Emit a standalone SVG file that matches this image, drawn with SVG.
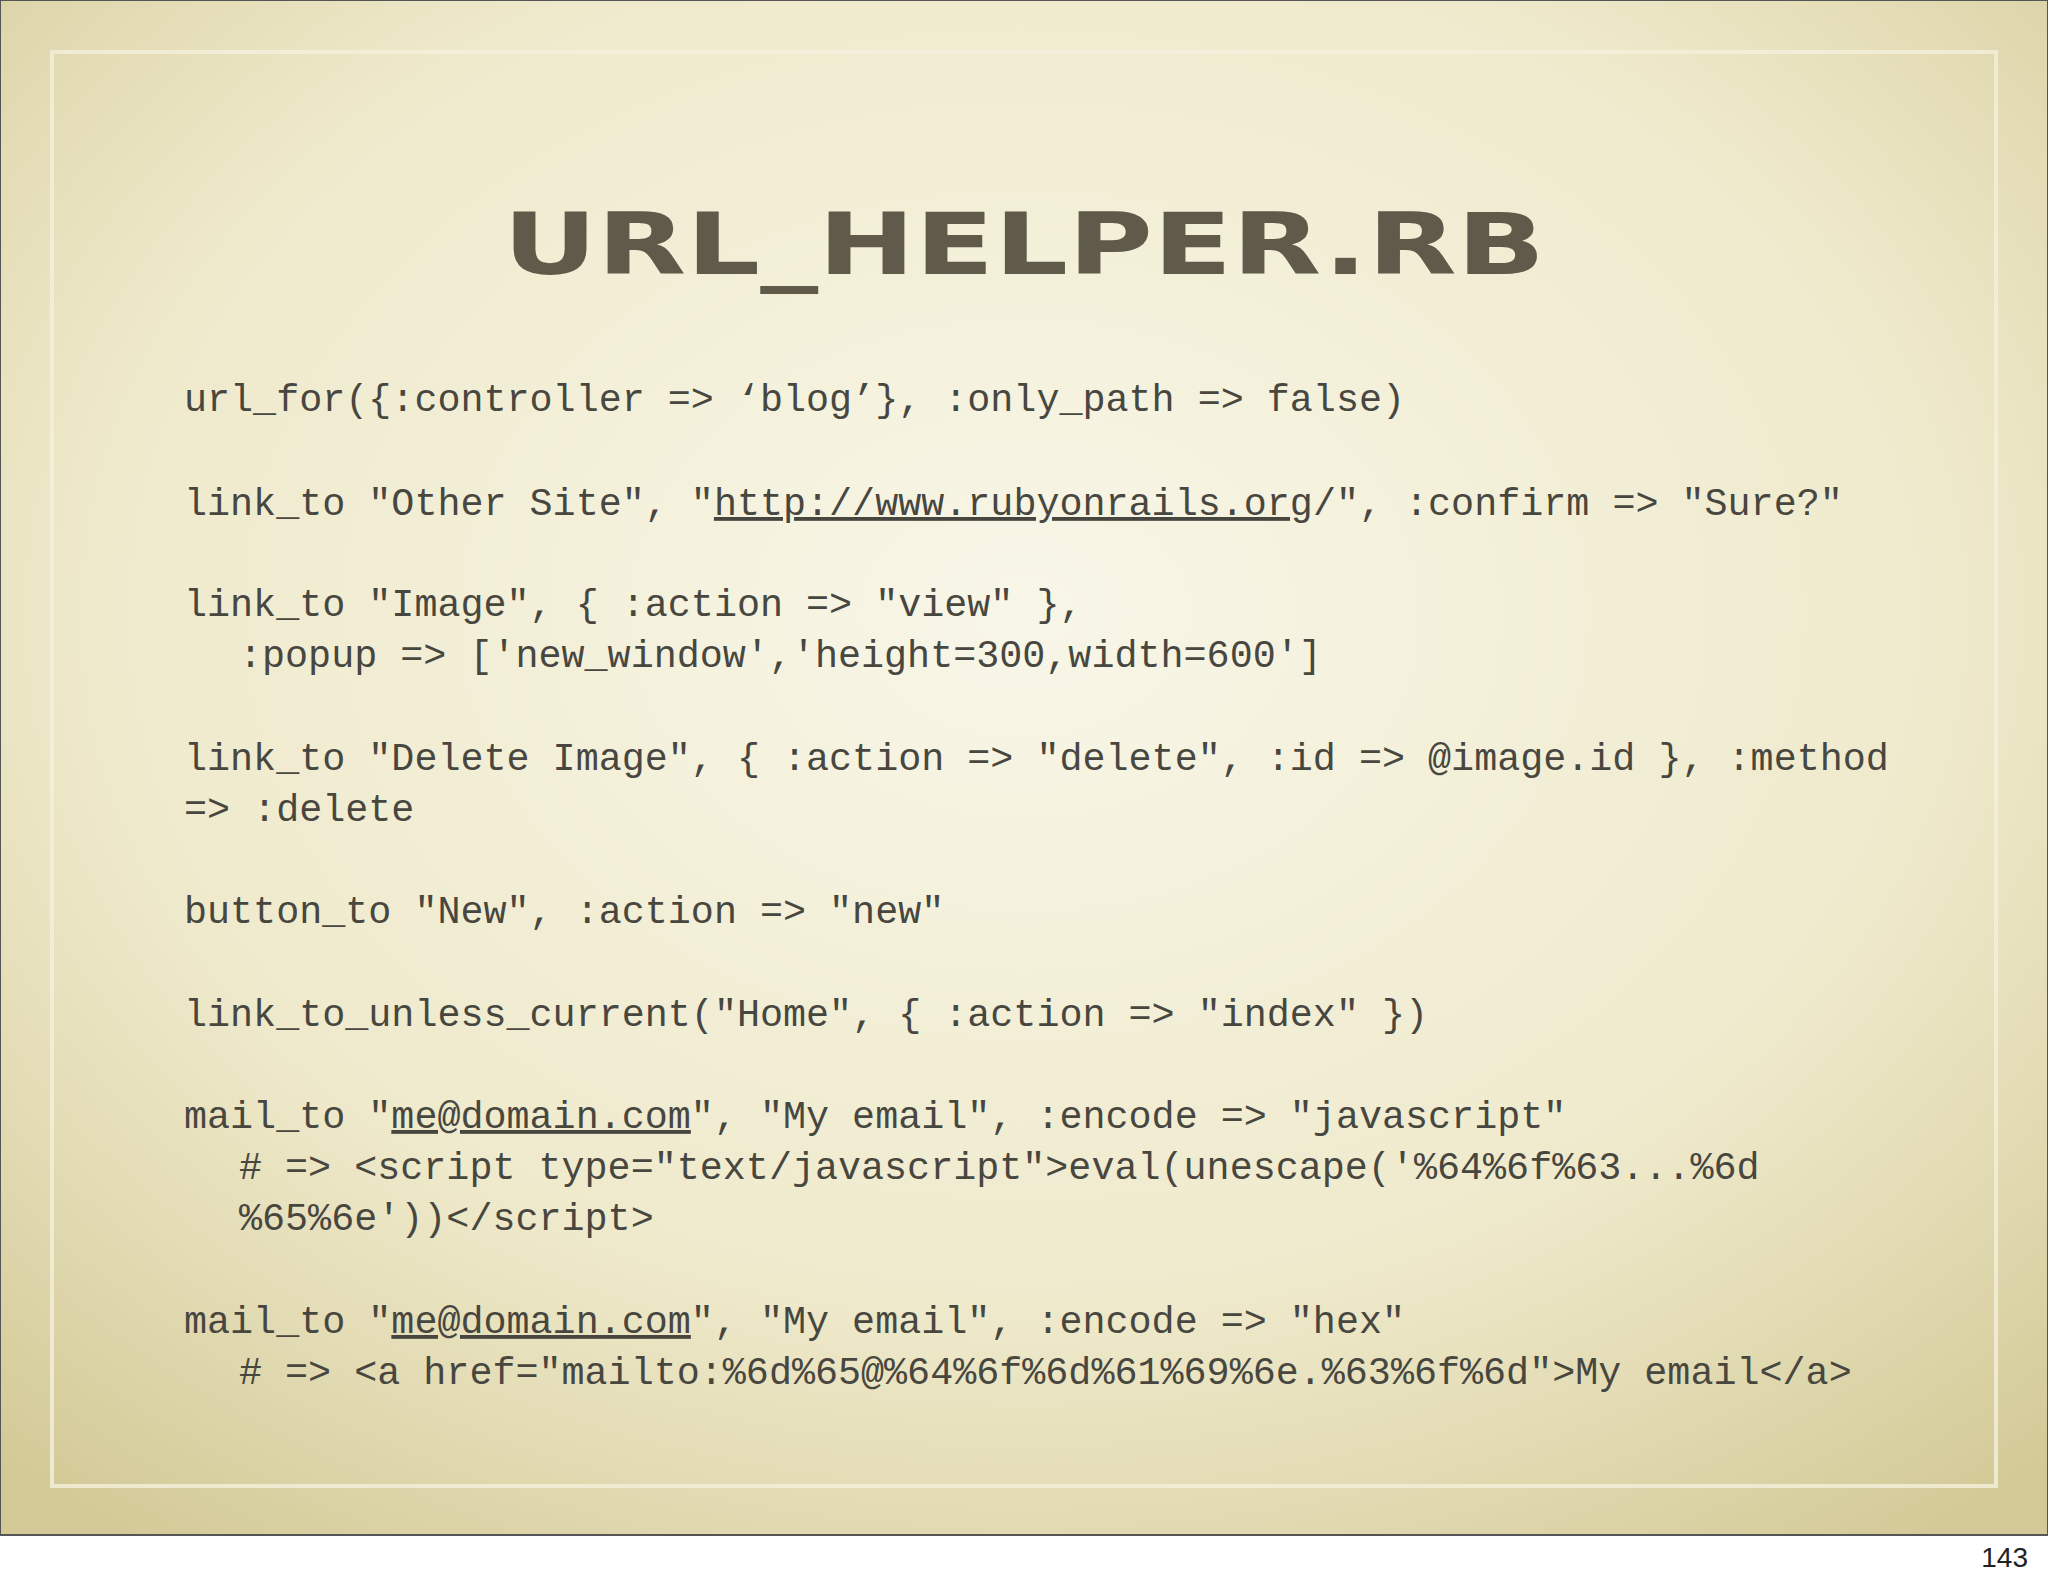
<svg xmlns="http://www.w3.org/2000/svg" width="2048" height="1587" viewBox="0 0 2048 1587">
<defs>
<radialGradient id="bg" cx="50%" cy="40%" r="75%">
<stop offset="0" stop-color="#f8f6e8"/>
<stop offset="0.6" stop-color="#efeacc"/>
<stop offset="1" stop-color="#d3c996"/>
</radialGradient>
</defs>
<style>
.c{font-family:"Liberation Mono","DejaVu Sans Mono",monospace;font-size:38.4px;fill:#48473f}
.u{text-decoration:underline}
</style>
<rect width="2048" height="1587" fill="#fff"/>
<rect x="0" y="0" width="2048" height="1535" fill="url(#bg)" stroke="#555" stroke-width="2"/>
<rect x="52" y="52" width="1944" height="1434" fill="none" stroke="#f4f0dc" stroke-width="4" opacity="0.8"/>
<text x="1024" y="274" text-anchor="middle" font-family="DejaVu Sans, sans-serif" font-weight="bold" font-size="86" fill="#5f5a4a" textLength="1042" lengthAdjust="spacingAndGlyphs">URL_HELPER.RB</text>
<g id="code">
<text class="c" x="184" y="411">url_for({:controller =&gt; ‘blog’}, :only_path =&gt; false)</text>
<text class="c" x="184" y="515">link_to "Other Site", "<tspan class="u">http://www.rubyonrails.org</tspan>/", :confirm =&gt; "Sure?"</text>
<text class="c" x="184" y="616">link_to "Image", { :action =&gt; "view" },</text>
<text class="c" x="239" y="667">:popup =&gt; ['new_window','height=300,width=600']</text>
<text class="c" x="184" y="770">link_to "Delete Image", { :action =&gt; "delete", :id =&gt; @image.id }, :method</text>
<text class="c" x="184" y="821">=&gt; :delete</text>
<text class="c" x="184" y="923">button_to "New", :action =&gt; "new"</text>
<text class="c" x="184" y="1026">link_to_unless_current("Home", { :action =&gt; "index" })</text>
<text class="c" x="184" y="1128">mail_to "<tspan class="u">me@domain.com</tspan>", "My email", :encode =&gt; "javascript"</text>
<text class="c" x="239" y="1179"># =&gt; &lt;script type="text/javascript"&gt;eval(unescape('%64%6f%63...%6d</text>
<text class="c" x="239" y="1230">%65%6e'))&lt;/script&gt;</text>
<text class="c" x="184" y="1333">mail_to "<tspan class="u">me@domain.com</tspan>", "My email", :encode =&gt; "hex"</text>
<text class="c" x="239" y="1384"># =&gt; &lt;a href="mailto:%6d%65@%64%6f%6d%61%69%6e.%63%6f%6d"&gt;My email&lt;/a&gt;</text>
</g>
<text x="2028" y="1567" text-anchor="end" font-family="Liberation Sans, sans-serif" font-size="28" fill="#222">143</text>
</svg>
